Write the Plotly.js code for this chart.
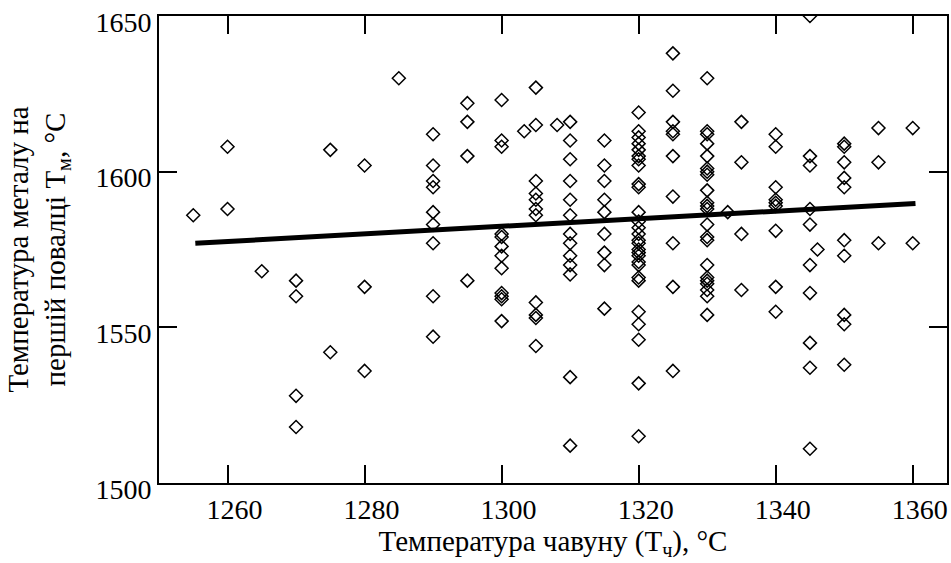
<!DOCTYPE html>
<html>
<head>
<meta charset="utf-8">
<script src="https://cdn.plot.ly/plotly-3.0.1.min.js"></script>
<style>html,body{margin:0;padding:0;background:#fff;}#chart{width:951px;height:563px;}</style>
</head>
<body>
<div id="chart"></div>
<script>
// Scatter data: cast-iron temperature (x) and metal temperature at first tapping (y)
const ironTemp = [
  1255,
  1260, 1260,
  1265,
  1270, 1270, 1270, 1270,
  1275, 1275,
  1280, 1280, 1280,
  1285,
  1290, 1290, 1290, 1290, 1290, 1290, 1290, 1290, 1290,
  1295, 1295, 1295, 1295,
  1300, 1300, 1300, 1300, 1300, 1300, 1300, 1300, 1300, 1300, 1300, 1300,
  1303.3,
  1305, 1305, 1305, 1305, 1305, 1305, 1305, 1305, 1305, 1305, 1305,
  1308.1,
  1310, 1310, 1310, 1310, 1310, 1310, 1310, 1310, 1310, 1310, 1310, 1310, 1310,
  1315, 1315, 1315, 1315, 1315, 1315, 1315, 1315, 1315,
  1320, 1320, 1320, 1320, 1320, 1320, 1320, 1320, 1320, 1320, 1320, 1320, 1320, 1320,
  1320, 1320, 1320, 1320, 1320, 1320, 1320, 1320, 1320, 1320, 1320, 1320, 1320, 1320,
  1325, 1325, 1325, 1325, 1325, 1325, 1325, 1325, 1325, 1325,
  1330, 1330, 1330, 1330, 1330, 1330, 1330, 1330, 1330, 1330, 1330,
  1330, 1330, 1330, 1330, 1330, 1330, 1330, 1330, 1330, 1330, 1330,
  1333,
  1335, 1335, 1335, 1335,
  1340, 1340, 1340, 1340, 1340, 1340, 1340, 1340, 1340,
  1345, 1345, 1345, 1345, 1345, 1345, 1345, 1345, 1345, 1345,
  1346.1,
  1350, 1350, 1350, 1350, 1350, 1350, 1350, 1350, 1350, 1350,
  1355, 1355, 1355,
  1360, 1360
];
const metalTemp = [
  1586,
  1608, 1588,
  1568,
  1565, 1560, 1528, 1518,
  1607, 1542,
  1602, 1563, 1536,
  1630,
  1612, 1602, 1597, 1595, 1587, 1583, 1577, 1560, 1547,
  1622, 1616, 1605, 1565,
  1623, 1610, 1608, 1580, 1579, 1576, 1573, 1569, 1561, 1560, 1559, 1552,
  1613,
  1627, 1615, 1597, 1593, 1591, 1588, 1586, 1558, 1554, 1553, 1544,
  1615,
  1616, 1610, 1604, 1597, 1591, 1586, 1580, 1577, 1573, 1570, 1567, 1534, 1512,
  1610, 1602, 1597, 1591, 1587, 1580, 1574, 1570, 1556,
  1619, 1613, 1611, 1609, 1607, 1605, 1604, 1602, 1596, 1595, 1587, 1584, 1582, 1580,
  1578, 1577, 1575, 1574, 1573, 1571, 1570, 1566, 1565, 1555, 1551, 1546, 1532, 1515,
  1638, 1626, 1616, 1613, 1612, 1605, 1592, 1577, 1563, 1536,
  1630, 1613, 1612, 1609, 1605, 1601, 1600, 1599, 1594, 1590, 1589,
  1588, 1583, 1579, 1578, 1570, 1566, 1565, 1564, 1562, 1560, 1554,
  1587,
  1616, 1603, 1580, 1562,
  1612, 1608, 1595, 1591, 1590, 1589, 1581, 1563, 1555,
  1650, 1605, 1602, 1588, 1583, 1570, 1561, 1545, 1537, 1511,
  1575,
  1609, 1608, 1603, 1598, 1595, 1578, 1573, 1554, 1551, 1538,
  1614, 1603, 1577,
  1614, 1577
];
// Regression line end points
const fitX = [1255.3, 1360.4];
const fitY = [1577, 1589.8];

const xTicks = [1260, 1280, 1300, 1320, 1340, 1360];
const yTicks = [1500, 1550, 1600, 1650];

const FONT = 'Liberation Serif';

const traces = [
  {
    x: ironTemp, y: metalTemp, type: 'scatter', mode: 'markers',
    marker: {symbol: 'diamond-open', size: 10, color: '#000', line: {color: '#000', width: 1.5}},
    hoverinfo: 'x+y', showlegend: false
  },
  {
    x: fitX, y: fitY, type: 'scatter', mode: 'lines',
    line: {color: '#000', width: 5}, showlegend: false
  }
];

const axisCommon = {
  showline: true, linecolor: '#000', linewidth: 2, mirror: 'ticks',
  ticks: 'inside', ticklen: 18, tickwidth: 2, tickcolor: '#000',
  showgrid: false, zeroline: false,
  tickfont: {family: FONT, size: 28, color: '#000'}
};

const layout = {
  width: 951, height: 563,
  margin: {l: 159, r: 4, t: 16, b: 80},
  paper_bgcolor: '#fff', plot_bgcolor: '#fff',
  font: {family: FONT, color: '#000', size: 28},
  xaxis: Object.assign({}, axisCommon, {
    range: [1250, 1365], tickvals: xTicks, ticktext: xTicks.map(String),
    ticklabelshift: 7,
    title: {text: 'Температура чавуну (Т<sub>ч</sub>), °С', font: {family: FONT, size: 29, color: '#000'}, standoff: 3}
  }),
  yaxis: Object.assign({}, axisCommon, {
    range: [1500, 1650], tickvals: yTicks, ticktext: yTicks.map(String),
    ticklabelshift: 6,
    title: {text: 'Температура металу на<br>першій повалці Т<sub>м</sub>, °С', font: {family: FONT, size: 29, color: '#000'}, standoff: 21}
  })
};

Plotly.newPlot('chart', traces, layout, {displayModeBar: false, staticPlot: true});
</script>
</body>
</html>
